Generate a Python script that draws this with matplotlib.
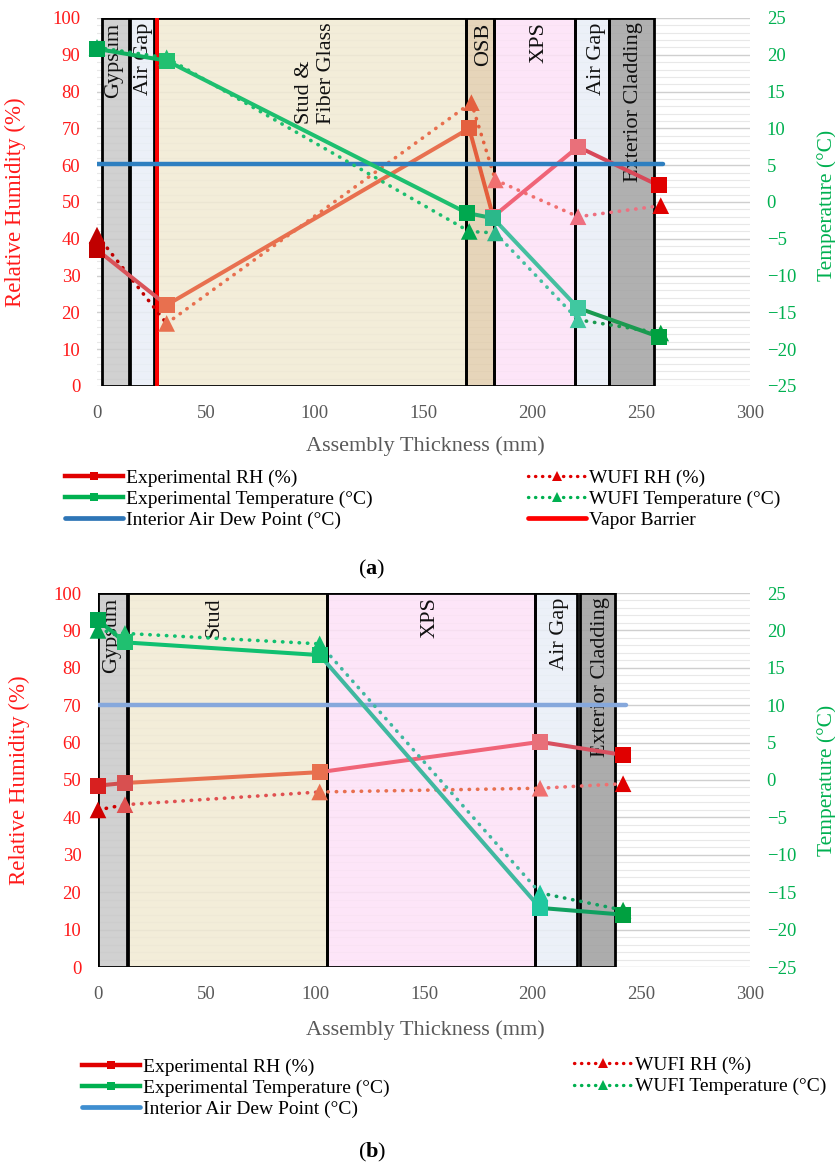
import matplotlib
matplotlib.use("Agg")
import matplotlib.pyplot as plt
from matplotlib.patches import Rectangle
from matplotlib.lines import Line2D

plt.rcParams['font.family'] = ['Liberation Serif', 'DejaVu Serif']
plt.rcParams['mathtext.fontset'] = 'custom'
plt.rcParams['mathtext.rm'] = 'Liberation Serif'
plt.rcParams['mathtext.bf'] = 'Liberation Serif:bold'

# ---------------- data: panel (a) ----------------
a_layers = ["Gypsum", "Air Gap", "Stud &\nFiber Glass", "OSB", "XPS", "Air Gap", "Exterior Cladding"]
a_edges = [(2.3, 14.7), (15.2, 26.2), (27.6, 169.5), (169.5, 182.4), (182.4, 219.6), (219.6, 235.2), (235.2, 255.9)]
a_label_x = [7.6, 21.4, 100.5, 177.4, 203.2, 229.4, 246.6]
a_fill = ['#C9C9C9', '#E9EEF7', '#F1EAD3', '#E2CEAE', '#FDE1F7', '#E9EEF7', '#A3A3A3']

a_rh_x = [0, 32, 171, 182, 221, 258]
a_rh_exp = [37, 22, 70, 46, 65, 54.5]
a_rh_wufi_x = [0, 32, 172, 183, 221, 259]
a_rh_wufi = [41, 17, 77, 56, 46, 49]
a_t_x = [0, 32, 170, 182, 221, 258]
a_t_exp = [20.8, 19.2, -1.5, -2.2, -14.4, -18.3]
a_t_wufi_x = [0, 32, 171, 183, 221, 259]
a_t_wufi = [21, 19.6, -4.0, -4.2, -16, -17.8]
a_dew_x = [0, 260]
a_dew = 5.2
a_vapor_x = 27.6

# ---------------- data: panel (b) ----------------
b_layers = ["Gypsum", "Stud", "XPS", "Air Gap", "Exterior Cladding"]
b_edges = [(0, 13.3), (13.8, 105.4), (105.4, 201), (201, 220.4), (221.8, 237.9)]
b_label_x = [6.3, 53.6, 152.6, 212.2, 231.2]
b_fill = ['#C9C9C9', '#F1EAD3', '#FDE1F7', '#E9EEF7', '#9E9E9E']

b_rh_x = [0, 12.4, 102, 203.4, 241.6]
b_rh_exp = [48.5, 49.2, 52.1, 60.2, 56.7]
b_rh_wufi = [42, 43.4, 46.8, 47.8, 49]
b_t_x = [0, 12.4, 102, 203.4, 241.6]
b_t_exp = [21.4, 18.4, 16.7, -17.1, -18.0]
b_t_wufi = [20.0, 19.6, 18.2, -15.1, -17.4]
b_dew_x = [0, 243]
b_dew = 10

x_ticks = [0, 50, 100, 150, 200, 250, 300]
rh_ticks = list(range(0, 101, 10))
t_ticks = list(range(-25, 26, 5))

# colours (gradient-like per point / per segment)
a_rh_mc = ['#C00000', '#E8704F', '#E4603F', '#EE6E78', '#E9707A', '#E00000']
a_rh_sc = ['#D9535A', '#E8704F', '#E45E3C', '#F06478', '#D84858']
a_rhw_mc = ['#C00000', '#E8704F', '#E4603F', '#F07070', '#EE7080', '#E00000']
a_t_mc = ['#00A651', '#22C070', '#00A84F', '#2BB88A', '#40C8A0', '#00A040']
a_t_sc = ['#10B060', '#1DBF6F', '#20B070', '#45BFA0', '#1A9A50']

b_rh_mc = ['#D82020', '#D85050', '#E8704F', '#E8707A', '#E00000']
b_rh_sc = ['#D05050', '#E8704F', '#F06478', '#D85060']
b_rhw_mc = ['#D00000', '#E05050', '#E8704F', '#F07070', '#E00000']
b_t_mc = ['#00A651', '#20C070', '#10C070', '#20C8A0', '#00A040']
b_t_sc = ['#10B060', '#10C070', '#40B8A0', '#10A060']

W, H = 835, 1166
def fx(x): return x / W
def fy(y): return 1 - y / H

fig = plt.figure(figsize=(W / 100, H / 100), dpi=100)

RED = '#FF1A1A'
GREEN = '#00B050'
GRAY = '#595959'


def draw_segments(ax, x, y, seg_colors, ls, lw, z):
    for i in range(len(x) - 1):
        if ls == 'dot':
            ax.plot(x[i:i + 2], y[i:i + 2], color=seg_colors[i], lw=lw,
                    linestyle=(0, (0.1, 2.2)), dash_capstyle='round', zorder=z, clip_on=False)
        else:
            ax.plot(x[i:i + 2], y[i:i + 2], color=seg_colors[i], lw=lw,
                    solid_capstyle='round', zorder=z, clip_on=False)


def panel(rect, layers, edges, label_x, fills, rh_x, rh_exp, rhw_x, rh_wufi,
          t_x, t_exp, tw_x, t_wufi, dew_x, dew_val, dew_color,
          rh_mc, rh_sc, rhw_mc, t_mc, t_sc, vapor_x=None):
    ax = fig.add_axes(rect)
    ax.set_xlim(0, 300)
    ax.set_ylim(0, 100)
    for s in ax.spines.values():
        s.set_visible(False)
    ax.set_xticks(x_ticks)
    ax.set_yticks(rh_ticks)
    ax.set_yticks(range(0, 101, 2), minor=True)
    ax.tick_params(axis='x', length=0, pad=14, labelsize=13.5, labelcolor=GRAY)
    ax.tick_params(axis='y', which='both', length=0, pad=12, labelsize=13.5, labelcolor=RED)
    ax.grid(axis='y', which='major', color='#CFCFCF', lw=1.0, zorder=0)
    ax.grid(axis='y', which='minor', color='#E8E8E8', lw=0.8, zorder=0)
    ax.set_axisbelow(True)

    for (x0, x1), fc in zip(edges, fills):
        ax.add_patch(Rectangle((x0, 0), x1 - x0, 100, facecolor=fc, edgecolor='none',
                               alpha=0.85, zorder=1))
        ax.add_patch(Rectangle((x0, 0), x1 - x0, 100, facecolor='none', edgecolor='black',
                               lw=2.0, zorder=1.1))
    for lab, lx in zip(layers, label_x):
        ax.text(lx, 98.8, lab, rotation=90, ha='center', va='top', multialignment='left',
                fontsize=16, color='#111111', zorder=2)
    if vapor_x is not None:
        ax.plot([vapor_x, vapor_x], [0, 100], color='#FF0000', lw=2.8, zorder=3)

    draw_segments(ax, rhw_x, rh_wufi, rhw_mc[:-1], 'dot', 2.6, 4)
    ax.scatter(rhw_x, rh_wufi, marker='^', s=12 ** 2, c=rhw_mc, zorder=4.5, clip_on=False, linewidths=0)
    draw_segments(ax, rh_x, rh_exp, rh_sc, 'solid', 2.9, 5)
    ax.scatter(rh_x, rh_exp, marker='s', s=11.5 ** 2, c=rh_mc, zorder=5.5, clip_on=False, linewidths=0)

    ax.set_ylabel('Relative Humidity (%)', color=RED, fontsize=16.5)

    ax2 = ax.twinx()
    ax2.set_ylim(-25, 25)
    ax2.set_yticks(t_ticks)
    for s in ax2.spines.values():
        s.set_visible(False)
    ax2.tick_params(axis='y', length=0, pad=12, labelsize=13.5, labelcolor=GREEN)
    ax2.plot(dew_x, [dew_val, dew_val], color=dew_color, lw=3.2, zorder=3, solid_capstyle='round')
    draw_segments(ax2, tw_x, t_wufi, t_sc, 'dot', 2.6, 4)
    ax2.scatter(tw_x, t_wufi, marker='^', s=12 ** 2, c=t_mc, zorder=4.5, clip_on=False, linewidths=0)
    draw_segments(ax2, t_x, t_exp, t_sc, 'solid', 2.9, 5)
    ax2.scatter(t_x, t_exp, marker='s', s=11.5 ** 2, c=t_mc, zorder=5.5, clip_on=False, linewidths=0)
    ax2.set_ylabel('Temperature (°C)', color=GREEN, fontsize=15.5)
    return ax, ax2


ax_a, ax_a2 = panel([fx(97), fy(386), fx(750) - fx(97), fy(18) - fy(386)],
                    a_layers, a_edges, a_label_x, a_fill,
                    a_rh_x, a_rh_exp, a_rh_wufi_x, a_rh_wufi,
                    a_t_x, a_t_exp, a_t_wufi_x, a_t_wufi, a_dew_x, a_dew, '#2E7FC0',
                    a_rh_mc, a_rh_sc, a_rhw_mc, a_t_mc, a_t_sc, vapor_x=a_vapor_x)
ax_a.yaxis.set_label_coords((26 - 97) / 653, 0.5)
ax_a2.yaxis.set_label_coords((817 - 97) / 653, 0.49)

ax_b, ax_b2 = panel([fx(98), fy(967), fx(750) - fx(98), fy(593) - fy(967)],
                    b_layers, b_edges, b_label_x, b_fill,
                    b_rh_x, b_rh_exp, b_rh_x, b_rh_wufi,
                    b_t_x, b_t_exp, b_t_x, b_t_wufi, b_dew_x, b_dew, '#86A8DC',
                    b_rh_mc, b_rh_sc, b_rhw_mc, b_t_mc, b_t_sc)
ax_b.yaxis.set_label_coords((30 - 98) / 652, 0.5)
ax_b2.yaxis.set_label_coords((817 - 98) / 652, 0.50)

# x labels and panel tags
fig.text(fx(425), fy(446), 'Assembly Thickness (mm)', ha='center', va='center', fontsize=16, color=GRAY)
fig.text(fx(425), fy(1030), 'Assembly Thickness (mm)', ha='center', va='center', fontsize=16, color=GRAY)
fig.text(fx(372), fy(569), r'($\mathbf{a}$)', ha='center', va='center', fontsize=16, color='black')
fig.text(fx(372), fy(1152), r'($\mathbf{b}$)', ha='center', va='center', fontsize=16, color='black')

# legends
def h_exp(color):
    return Line2D([], [], color=color, lw=3.2, marker='s', ms=6, markeredgewidth=0)
def h_wufi(color):
    return Line2D([], [], color=color, lw=2.4, linestyle=(0, (0.1, 2.0)), dash_capstyle='round',
                  marker='^', ms=7, markeredgewidth=0)
def h_line(color):
    return Line2D([], [], color=color, lw=3.4, solid_capstyle='round')

leg_kw = dict(frameon=False, fontsize=14, handlelength=3.0, handletextpad=0.15,
              labelspacing=0.18, borderpad=0, borderaxespad=0, loc='center left', numpoints=1)
labels_left = ['Experimental RH (%)', 'Experimental Temperature (°C)', 'Interior Air Dew Point (°C)']
fig.legend([h_exp('#E00000'), h_exp('#00B050'), h_line('#2E75B6')], labels_left,
           bbox_to_anchor=(fx(65), fy(499)), **leg_kw)
fig.legend([h_wufi('#E00000'), h_wufi('#00B050'), h_line('#FF0000')],
           ['WUFI RH (%)', 'WUFI Temperature (°C)', 'Vapor Barrier'],
           bbox_to_anchor=(fx(528), fy(499)), **leg_kw)
fig.legend([h_exp('#E00000'), h_exp('#00B050'), h_line('#3E8ED0')], labels_left,
           bbox_to_anchor=(fx(82), fy(1088)), **leg_kw)
fig.legend([h_wufi('#E00000'), h_wufi('#00B050')],
           ['WUFI RH (%)', 'WUFI Temperature (°C)'],
           bbox_to_anchor=(fx(574), fy(1076)), **leg_kw)

fig.savefig('out.png', dpi=100)
